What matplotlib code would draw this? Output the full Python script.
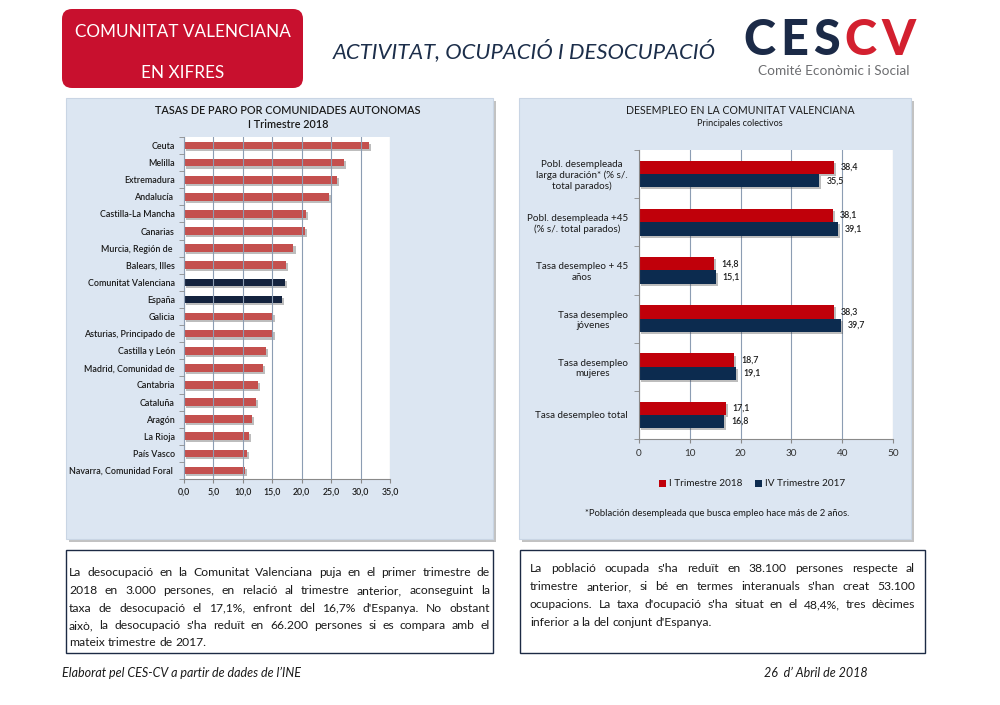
import matplotlib
matplotlib.use("Agg")
import matplotlib.pyplot as plt
import matplotlib.patheffects as pe
from matplotlib.patches import Rectangle, FancyBboxPatch
from matplotlib.ticker import FixedLocator
import numpy as np

plt.rcParams['font.family'] = ['Lato', 'DejaVu Sans']

# ---------------- data ----------------
regions = ["Ceuta", "Melilla", "Extremadura", "Andalucía ", "Castilla-La Mancha", "Canarias",
           "Murcia, Región de ", "Balears, Illes", "Comunitat Valenciana", "España", "Galicia",
           "Asturias, Principado de", "Castilla y León", "Madrid, Comunidad de", "Cantabria",
           "Cataluña", "Aragón", "La Rioja", "País Vasco", "Navarra, Comunidad Foral "]
rates = [31.4, 27.2, 26.0, 24.7, 20.7, 20.6, 18.6, 17.4, 17.1, 16.7, 15.1,
         15.1, 13.9, 13.4, 12.5, 12.2, 11.6, 11.0, 10.7, 10.4]
highlight = ["Comunitat Valenciana", "España"]
left_xticks = [0, 5, 10, 15, 20, 25, 30, 35]

groups = ["Pobl. desempleada\nlarga duración* (% s/.\ntotal parados)",
          "Pobl. desempleada +45\n(% s/. total parados)",
          "Tasa desempleo + 45\naños",
          "Tasa desempleo\njóvenes",
          "Tasa desempleo\nmujeres",
          "Tasa desempleo total"]
q1_2018 = [38.4, 38.1, 14.8, 38.3, 18.7, 17.1]
q4_2017 = [35.5, 39.1, 15.1, 39.7, 19.1, 16.8]
series_names = ["I Trimestre 2018", "IV Trimestre 2017"]
right_xticks = [0, 10, 20, 30, 40, 50]

text_left = ["La desocupació en la Comunitat Valenciana puja en el primer trimestre de",
             "2018 en 3.000 persones, en relació al trimestre anterior, aconseguint la",
             "taxa de desocupació el 17,1%, enfront del 16,7% d'Espanya. No obstant",
             "això, la desocupació s'ha reduït en 66.200 persones si es compara amb el",
             "mateix trimestre de 2017."]
text_right = ["La població ocupada s'ha reduït en 38.100 persones respecte al",
              "trimestre anterior, si bé en termes interanuals s'han creat 53.100",
              "ocupacions. La taxa d'ocupació s'ha situat en el 48,4%, tres dècimes",
              "inferior a la del conjunt d'Espanya."]

logo_letters = ["C", "E", "S", "C", "V"]
logo_colors = ['#1B2A47', '#1B2A47', '#1B2A47', '#D3202F', '#D3202F']

# ---------------- figure ----------------
W, H = 1000, 705
fig = plt.figure(figsize=(W / 100, H / 100), dpi=100)
fig.patch.set_facecolor('white')

ax_bg = fig.add_axes([0, 0, 1, 1], zorder=0)
ax_bg.set_xlim(0, W)
ax_bg.set_ylim(H, 0)
ax_bg.axis('off')

RED_HDR = '#C8102E'
NAVY_TXT = '#1C2E4A'
PANEL = '#DCE6F2'

# header box
ax_bg.add_patch(FancyBboxPatch((62, 9), 241, 79, boxstyle="round,pad=0,rounding_size=10",
                               facecolor=RED_HDR, edgecolor='none'))
ax_bg.text(183, 37, "COMUNITAT VALENCIANA", color='white', fontsize=12.3, ha='center', va='baseline')
ax_bg.text(183, 78, "EN XIFRES", color='white', fontsize=12.3, ha='center', va='baseline')
ax_bg.text(524, 58, "ACTIVITAT, OCUPACIÓ I DESOCUPACIÓ", color=NAVY_TXT, fontsize=15.8,
           style='italic', ha='center', va='baseline')

fig.canvas.draw()
renderer = fig.canvas.get_renderer()

# logo letters, laid out left to right
lx = 743
for ch, c in zip(logo_letters, logo_colors):
    t = ax_bg.text(lx, 55, ch, color=c, fontsize=35, fontweight='black', ha='left', va='baseline')
    lx += t.get_window_extent(renderer).width + 5
ax_bg.text(834, 75, "Comité Econòmic i Social", color='#6D6E71', fontsize=9.8, ha='center', va='baseline')

# panels with shadow
def panel(x0, y0, x1, y1):
    ax_bg.add_patch(Rectangle((x0 + 3, y0 + 3), x1 - x0, y1 - y0, facecolor='#9A9A9A',
                              edgecolor='none', alpha=0.6))
    ax_bg.add_patch(Rectangle((x0, y0), x1 - x0, y1 - y0, facecolor=PANEL,
                              edgecolor='#C9D5E4', lw=0.8))

panel(66, 98, 493, 539)
panel(519, 98, 911, 539)

# text boxes
for (x0, y0, x1, y1) in [(66, 550, 493, 653), (520, 550, 925, 653)]:
    ax_bg.add_patch(Rectangle((x0, y0), x1 - x0, y1 - y0, facecolor='white',
                              edgecolor='#1C2A44', lw=1.0))

def justify(lines, x0, x1, baselines, fs, color='#1A1A1A'):
    probe1 = ax_bg.text(0, 0, "a a", fontsize=fs)
    probe2 = ax_bg.text(0, 0, "aa", fontsize=fs)
    sp = probe1.get_window_extent(renderer).width - probe2.get_window_extent(renderer).width
    probe1.remove(); probe2.remove()
    for i, (line, yb) in enumerate(zip(lines, baselines)):
        words = line.split()
        ts = [ax_bg.text(0, yb, w, fontsize=fs, color=color, ha='left', va='baseline') for w in words]
        ws = [t.get_window_extent(renderer).width for t in ts]
        if i == len(lines) - 1 or len(words) < 2:
            gap = sp
        else:
            gap = (x1 - x0 - sum(ws)) / (len(words) - 1)
        x = x0
        for t, w in zip(ts, ws):
            t.set_x(x)
            x += w + gap

justify(text_left, 69, 490, [576.5, 594, 611.5, 629, 646.5], 8.7)
justify(text_right, 530, 915, [572, 590, 608, 626], 8.7)

# footer
ax_bg.text(62, 677, "Elaborat pel CES-CV a partir de dades de l’INE", fontsize=9, style='italic',
           color='#1A1A1A', ha='left', va='baseline')
ax_bg.text(868, 677, "26  d’ Abril de 2018", fontsize=9, style='italic',
           color='#1A1A1A', ha='right', va='baseline')

def fr(x0, y0, x1, y1):
    return [x0 / W, 1 - y1 / H, (x1 - x0) / W, (y1 - y0) / H]

GRID = '#8C9DB3'
SPINE = '#8A8A8A'
shadow = [pe.SimplePatchShadow(offset=(1.5, -1.5), shadow_rgbFace='#444444', alpha=0.35), pe.Normal()]

# ---------------- left chart ----------------
ax1 = fig.add_axes(fr(184, 137, 390, 479), zorder=2)
ax1.set_facecolor('white')
yl = np.arange(len(regions))
cols = ['#14233E' if r in highlight else '#C4504E' for r in regions]
bars = ax1.barh(yl, rates, height=0.45, color=cols, zorder=1)
for b in bars:
    b.set_path_effects(shadow)
ax1.set_ylim(len(regions) - 0.5, -0.5)
ax1.set_xlim(0, 35)
ax1.set_xticks(left_xticks)
ax1.set_xticklabels([f"{v:.1f}".replace('.', ',') for v in left_xticks])
ax1.set_yticks(yl)
ax1.set_yticklabels(regions)
ax1.yaxis.set_minor_locator(FixedLocator(np.arange(-0.5, len(regions), 1.0)))
ax1.tick_params(axis='y', which='major', length=0, pad=6.5, labelsize=6.4, labelcolor='#1A1A1A')
ax1.tick_params(axis='y', which='minor', length=3.5, color=SPINE, direction='out')
ax1.tick_params(axis='x', which='major', length=3, color=SPINE, pad=3, labelsize=6.3, labelcolor='#1A1A1A')
ax1.grid(axis='x', color=GRID, lw=0.8, zorder=3)
ax1.set_axisbelow(False)
for s in ['top', 'right']:
    ax1.spines[s].set_visible(False)
for s in ['left', 'bottom']:
    ax1.spines[s].set_color(SPINE)
    ax1.spines[s].set_linewidth(0.8)
for lab in ax1.get_yticklabels() + ax1.get_xticklabels():
    lab.set_fontweight('semibold')

ax_bg.text(288, 110, "TASAS DE PARO POR COMUNIDADES AUTONOMAS", fontsize=7.8, ha='center', va='center',
           color='#1A1A1A', fontweight='semibold')
ax_bg.text(288, 124, "I Trimestre 2018", fontsize=7.8, ha='center', va='center',
           color='#1A1A1A', fontweight='semibold')

# ---------------- right chart ----------------
ax2 = fig.add_axes(fr(639, 150, 893, 439), zorder=2)
ax2.set_facecolor('white')
yr = np.arange(len(groups))
hb = 0.276
RED2 = '#C0000A'
NAVY2 = '#0C2B4F'
b1 = ax2.barh(yr - hb / 2, q1_2018, height=hb, color=RED2, label=series_names[0], zorder=2)
b2 = ax2.barh(yr + hb / 2, q4_2017, height=hb, color=NAVY2, label=series_names[1], zorder=2)
for b in list(b1) + list(b2):
    b.set_path_effects(shadow)
for cont, vals in [(b1, q1_2018), (b2, q4_2017)]:
    ax2.bar_label(cont, labels=[f"{v:.1f}".replace('.', ',') for v in vals], padding=5,
                  fontsize=6.4, color='#1A1A1A', fontweight='semibold')
ax2.set_ylim(len(groups) - 0.5, -0.5)
ax2.set_xlim(0, 50)
ax2.set_xticks(right_xticks)
ax2.set_yticks(yr)
ax2.set_yticklabels(groups, ha='right', multialignment='center')
ax2.yaxis.set_minor_locator(FixedLocator(np.arange(-0.5, len(groups), 1.0)))
ax2.tick_params(axis='y', which='major', length=0, pad=8, labelsize=7.1, labelcolor='#1A1A1A')
ax2.tick_params(axis='y', which='minor', length=3.5, color=SPINE, direction='out')
ax2.tick_params(axis='x', which='major', length=3, color=SPINE, pad=4, labelsize=7.2, labelcolor='#333333')
ax2.grid(axis='x', color=GRID, lw=0.8, zorder=0)
ax2.set_axisbelow(True)
for s in ['top', 'right']:
    ax2.spines[s].set_visible(False)
for s in ['left', 'bottom']:
    ax2.spines[s].set_color(SPINE)
    ax2.spines[s].set_linewidth(0.8)

leg = ax2.legend(loc='center', bbox_to_anchor=(752 / W, 1 - 484 / H), bbox_transform=fig.transFigure,
                 ncol=2, frameon=False, handlelength=0.7, handleheight=0.7, handletextpad=0.3,
                 columnspacing=1.2, fontsize=7.2, labelcolor='#1A1A1A')
for h in leg.legend_handles:
    h.set_path_effects([])

ax_bg.text(740, 110, "DESEMPLEO EN LA COMUNITAT VALENCIANA", fontsize=7.6, ha='center', va='center',
           color='#1A1A1A')
ax_bg.text(740, 124, "Principales colectivos", fontsize=6.6, ha='center', va='center',
           color='#1A1A1A')
ax_bg.text(717, 514, "*Población desempleada que busca empleo hace más de 2 años.", fontsize=6.8,
           ha='center', va='center', color='#1A1A1A')

fig.savefig("out.png", dpi=100, facecolor='white')
